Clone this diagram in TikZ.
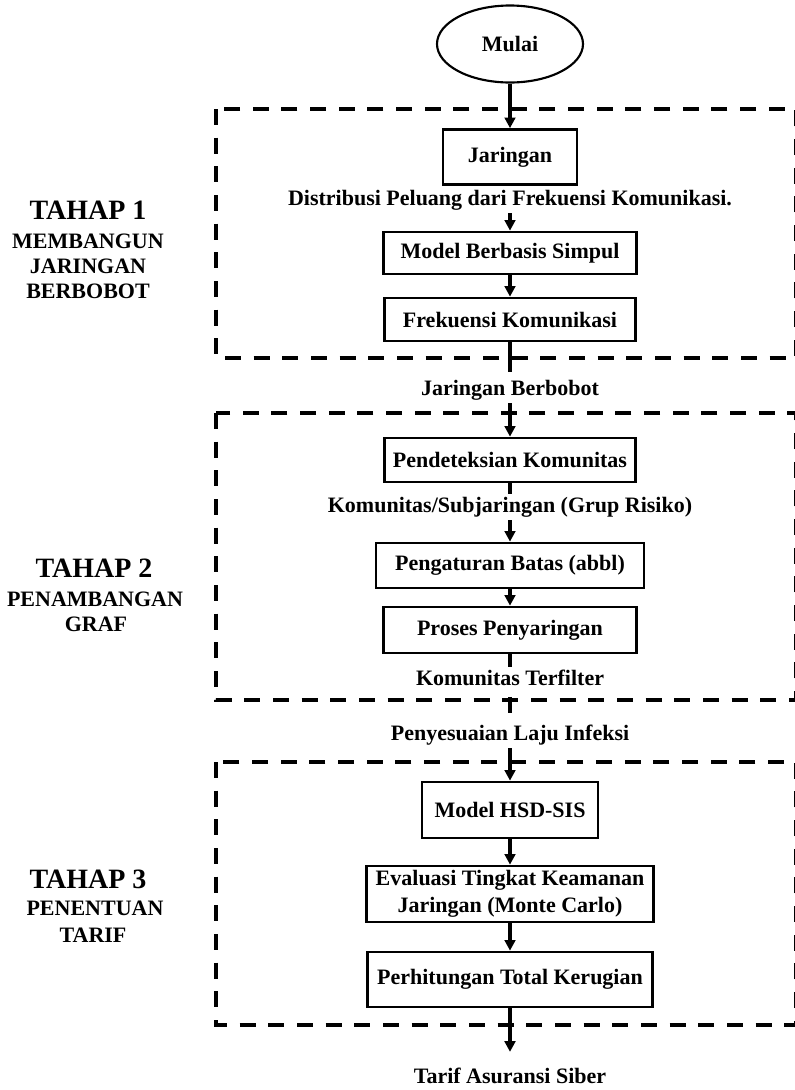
\documentclass[tikz,border=0pt]{standalone}
\usepackage{fontspec}
\setmainfont{Liberation Serif}
\usetikzlibrary{arrows.meta,shapes.geometric}
\begin{document}
\begin{tikzpicture}[x=0.75pt,y=-0.75pt,
  txt/.style={font=\fontsize{16.5}{20}\selectfont\bfseries, inner sep=2pt, align=center},
  bigtxt/.style={font=\fontsize{21}{24}\selectfont\bfseries, inner sep=0pt, anchor=base},
  subtxt/.style={font=\fontsize{16.5}{20}\selectfont\bfseries, inner sep=0pt, anchor=base},
  box/.style={txt, draw, line width=2pt},
  conn/.style={line width=2.5pt},
  arr/.style={conn, -{Triangle[length=8pt,width=8pt]}},
  stagebox/.style={line width=3pt, dash pattern=on 12pt off 9.5pt},
]
\useasboundingbox (0,0) rectangle (794,1090);
% stage frames
\draw[stagebox] (216,109) rectangle (796,358);
\draw[stagebox] (216,413) rectangle (796,700);
\draw[stagebox] (216,762) rectangle (796,1025);

% stage labels
\node[bigtxt] (s1a) at (88,219) {TAHAP 1};
\node[subtxt] (s1b) at (88,248) {MEMBANGUN};
\node[subtxt] (s1c) at (88,273) {JARINGAN};
\node[subtxt] (s1d) at (88,298) {BERBOBOT};
\node[bigtxt] (s2a) at (94,577) {TAHAP 2};
\node[subtxt] (s2b) at (95,606) {PENAMBANGAN};
\node[subtxt] (s2c) at (96,631) {GRAF};
\node[bigtxt] (s3a) at (88,888) {TAHAP 3};
\node[subtxt] (s3b) at (95,915) {PENENTUAN};
\node[subtxt] (s3c) at (93,942) {TARIF};

% flow
\node[txt, draw, ellipse, line width=1.6pt, minimum width=109.5pt, minimum height=57.75pt, inner sep=0pt] (mulai) at (510,44) {Mulai};
\node[box, minimum width=100.5pt, minimum height=41.25pt] (jar) at (510,157) {Jaringan};
\node[txt] (dist) at (510,200) {Distribusi Peluang dari Frekuensi Komunikasi.};
\node[box, minimum width=189.75pt, minimum height=31.5pt] (model) at (510,253) {Model Berbasis Simpul};
\node[box, minimum width=188.25pt, minimum height=32.25pt] (frek) at (510,319.5) {Frekuensi Komunikasi};
\node[txt] (jb) at (510,390) {Jaringan Berbobot};
\node[box, minimum width=188.25pt, minimum height=33pt] (pend) at (510,460) {Pendeteksian Komunitas};
\node[txt] (komsub) at (510,507) {Komunitas/Subjaringan (Grup Risiko)};
\node[box, minimum width=201pt, minimum height=33.75pt] (peng) at (510,565.5) {Pengaturan Batas (abbl)};
\node[box, minimum width=189.75pt, minimum height=34.5pt] (pros) at (510,630) {Proses Penyaringan};
\node[txt] (komter) at (510,678) {Komunitas Terfilter};
\node[txt] (penyes) at (510,735) {Penyesuaian Laju Infeksi};
\node[box, minimum width=132pt, minimum height=42pt] (hsd) at (510,810) {Model HSD-SIS};
\node[box, minimum width=215.25pt, minimum height=42pt] (eval) at (510,894) {Evaluasi Tingkat Keamanan\\Jaringan (Monte Carlo)};
\node[box, minimum width=213.75pt, minimum height=41.25pt] (perh) at (510,979.5) {Perhitungan Total Kerugian};
\node[txt] (tarif) at (510,1076) {Tarif Asuransi Siber};

% connectors
\draw[arr] (mulai) -- (jar);
\draw[arr] (dist) -- (model);
\draw[arr] (model) -- (frek);
\draw[conn, shorten >=4pt] (frek) -- (jb);
\draw[arr] (jb) -- (pend);
\draw[conn] (pend) -- (komsub);
\draw[arr] (komsub) -- (peng);
\draw[arr] (peng) -- (pros);
\draw[conn] (pros) -- (komter);
\draw[conn, shorten <=6pt, shorten >=7pt] (komter) -- (penyes);
\draw[arr] (penyes) -- (hsd);
\draw[arr] (hsd) -- (eval);
\draw[arr] (eval) -- (perh);
\draw[arr, shorten >=10pt] (perh) -- (tarif);
\end{tikzpicture}
\end{document}
